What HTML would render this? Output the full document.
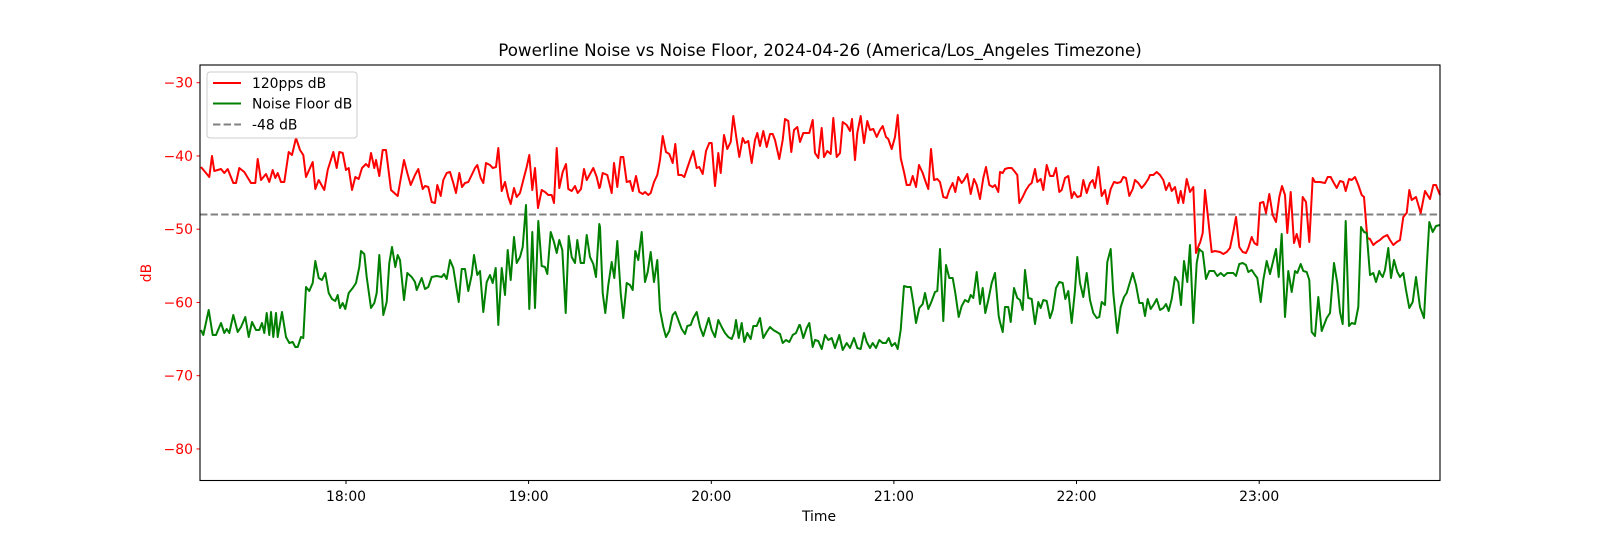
<!DOCTYPE html>
<html><head><meta charset="utf-8"><style>
body{margin:0;background:#fff}
text{font-family:"DejaVu Sans","Liberation Sans",sans-serif}
</style></head><body>
<svg id="s" width="1600" height="540" viewBox="0 0 1600 540" xmlns="http://www.w3.org/2000/svg">
<rect width="1600" height="540" fill="#fff"/>
<text x="820" y="56" font-size="16.7" text-anchor="middle" fill="#000">Powerline Noise vs Noise Floor, 2024-04-26 (America/Los_Angeles Timezone)</text>
<g id="ticks"></g>
<line x1="200" y1="214.5" x2="1440" y2="214.5" stroke="#808080" stroke-width="2" stroke-dasharray="7.4,3.2"/>
<polyline id="red" fill="none" stroke="#ff0000" stroke-width="2" stroke-linejoin="round"/>
<polyline id="green" fill="none" stroke="#008000" stroke-width="2" stroke-linejoin="round"/>
<rect x="200" y="65" width="1240" height="415.5" fill="none" stroke="#000" stroke-width="1.1"/>
<g>
<rect x="207" y="72" width="150" height="66" rx="3" fill="#fff" fill-opacity="0.8" stroke="#ccc"/>
<line x1="213" y1="83" x2="241" y2="83" stroke="#ff0000" stroke-width="2"/>
<text x="252" y="88" font-size="13.9">120pps dB</text>
<line x1="213" y1="103.5" x2="241" y2="103.5" stroke="#008000" stroke-width="2"/>
<text x="252" y="108.5" font-size="13.9">Noise Floor dB</text>
<line x1="213" y1="124.5" x2="241" y2="124.5" stroke="#808080" stroke-width="2" stroke-dasharray="7.4,3.2"/>
<text x="252" y="129.5" font-size="13.9">-48 dB</text>
</g>
<text x="151" y="273" font-size="13.9" fill="#ff0000" text-anchor="middle" transform="rotate(-90 151 273)">dB</text>
<text x="819" y="521" font-size="13.9" text-anchor="middle">Time</text>
</svg>
<script>
var ns="http://www.w3.org/2000/svg",g=document.getElementById("ticks");
function el(n,a,t){var e=document.createElementNS(ns,n);for(var k in a)e.setAttribute(k,a[k]);if(t)e.textContent=t;g.appendChild(e);}
for(var v=-30;v>=-80;v-=10){var y=82.7+(-30-v)*7.325;el("line",{x1:196.5,y1:y,x2:200,y2:y,stroke:"#ff0000"});el("text",{x:193,y:y+5,"font-size":13.9,fill:"#ff0000","text-anchor":"end"},"\u2212"+(-v));}
var xs=[346,528.6,711.3,893.9,1076.5,1259.2],lb=["18:00","19:00","20:00","21:00","22:00","23:00"];
for(var i=0;i<6;i++){el("line",{x1:xs[i],y1:480.5,x2:xs[i],y2:484,stroke:"#000"});el("text",{x:xs[i],y:501,"font-size":13.9,"text-anchor":"middle"},lb[i]);}
var R=[[196,[15,167,40,177,48,156,55,171,75,169,85,173,95,169,112,183,120,183,130,168,145,172,165,183,178,183,185,159,195,180,210,174,220,182,230,170,238,178,245,173,255,182,265,182,278,152,288,155,300,138,312,150,322,155,330,177,350,162,358,189,368,180,385,190,395,170,412,152,422,168,430,152,440,153,450,170,458,168,468,190,478,177,488,179,498,168,510,164,518,167,525,153,535,168,540,160,550,176,560,150,570,150,585,190,605,196,615,167]],
[400,[12,160,22,173,32,185,45,175,55,169,68,189,75,186,85,187,95,202,105,203,112,185,122,196,130,180,140,173,150,172,160,183,168,193,178,173,186,187,195,183,205,182,215,175,225,168,232,165,242,178,250,183,258,163,270,165,278,168,288,167,295,148,305,191,315,182,325,197,332,204,342,188,350,197,360,193,370,180,380,167,388,155,397,190,405,168,414,208,425,190,435,192,445,195,455,195,462,203,470,148,478,188,488,172,498,164,505,189,515,191,525,186,533,193,543,189,552,169,560,180,570,174,580,168,590,177,598,188]],
[600,[0,187,8,173,22,175,35,193,42,163,52,187,62,157,70,157,80,182,90,181,98,191,108,176,118,192,128,194,135,192,145,195,152,193,162,182,172,175,180,160,188,136,198,152,208,154,218,163,226,144,235,175,245,175,253,177,262,168,272,158,280,151,290,168,298,167,308,174,318,151,328,143,335,143,345,186,355,153,362,173,372,135,382,149,392,142,400,116,410,140,418,157,428,138,435,143,445,141,455,163,465,140,472,133,480,146,490,131,500,147,510,134,518,134,525,140,538,159,548,140,555,119,565,121,574,152,582,130,592,127,600,142,610,134]],
[800,[0,142,10,133,28,133,38,120,45,153,55,158,65,128,72,157,82,151,92,154,100,118,110,157,120,153,128,122,140,125,150,131,156,119,165,160,172,133,182,116,192,143,202,121,210,130,220,129,230,137,240,130,248,126,258,137,265,139,275,149,285,137,293,115,302,158,312,172,320,185,330,185,338,176,348,187,357,165,368,173,377,182,385,189,393,149,402,180,412,179,420,182,430,197,440,198,448,190,458,183,466,192,475,177,485,183,492,180,502,174,512,194,522,179,530,185,540,199,550,178,558,167,568,185,578,187,585,185,595,192,603,171,610,173,620,168]],
[1000,[0,172,8,173,15,169,25,168,35,168,45,172,52,175,58,203,68,197,78,190,88,185,95,183,105,169,112,182,122,179,130,190,140,165,150,176,160,176,168,168,178,192,185,190,195,178,205,176,215,198,222,192,232,197,242,196,250,180,260,193,270,183,278,180,285,188,295,167,305,196,315,190,322,204,332,189,342,182,352,183,362,182,370,177,378,178,388,196,398,189,405,180,415,183,425,188,435,184,445,179,450,175,460,175,470,172,480,175,490,180,498,190,508,183,515,191,525,187,535,203,542,191,550,203,560,179,570,192,580,187,588,253,598,244,608,233,616,191]],
[1200,[0,243,8,233,15,190,25,220,35,252,45,251,60,252,70,254,80,252,90,248,100,232,108,217,118,247,128,252,138,253,145,248,155,237,163,243,172,245,180,203,190,202,198,213,208,194,218,215,228,222,238,197,246,186,255,195,262,233,272,192,282,243,290,234,300,247,308,197,318,202,328,242,338,178,345,182,360,182,375,183,383,177,392,177,400,182,410,188,420,181,430,182,437,191,447,179,455,180,465,177,475,185,485,195,492,197,502,238,510,239,520,245,530,242]],
[1380,[0,240,10,237,22,235,30,240,40,245,50,242,60,240,70,217,80,213,88,190,95,200,108,197,122,213,135,191,150,199,160,185,168,185,180,195]]];
var G=[[196,[15,330,22,335,38,310,50,335,60,335,75,323,85,333,92,329,100,333,112,315,125,332,135,327,148,317,158,337,168,322,180,330,190,330,198,323,205,333,212,313,220,335,225,312,232,337,240,313,245,337,258,312,270,337,280,343,290,342,298,347,305,347,315,337,322,338,330,287,340,291,350,283,358,261,368,278,378,280,388,273,398,293,408,299,418,301,425,295,432,308,440,303,448,309,458,293,470,288,480,283,490,267,495,251,505,254,512,277,525,308,535,303,542,293,550,255,562,315,572,302,580,263,588,247,598,267,605,255,615,273]],
[400,[0,260,12,300,22,273,35,277,45,282,50,290,65,278,75,289,85,287,95,277,110,276,125,277,132,274,140,279,150,260,160,268,176,302,185,269,195,269,205,291,215,275,222,255,232,275,240,271,250,312,260,282,270,275,278,283,287,268,295,325,305,268,315,295,323,250,332,280,342,237,350,263,360,257,368,247,378,205,388,309,397,232,405,308,415,221,425,266,435,267,442,274,452,232,462,242,470,253,478,240,487,250,497,313,506,236,515,257,525,263,532,240,542,263,552,263,560,235,570,257,580,264,588,277,598,224]],
[600,[0,227,8,293,16,313,25,285,35,262,43,278,52,241,62,293,70,318,80,283,90,285,98,290,106,251,115,260,125,232,135,282,143,272,152,252,162,282,172,260,180,310,190,327,198,337,208,331,218,315,226,312,235,320,245,329,255,334,262,326,272,325,280,318,290,312,300,327,310,336,318,327,326,318,335,330,345,337,355,320,365,327,375,333,385,337,395,339,402,333,408,320,416,338,425,323,433,342,442,333,452,339,460,326,470,326,480,318,490,338,500,332,510,327,520,330,530,332,540,334,548,343,558,340,568,342,578,335,588,333,598,325,605,343,615,330]],
[800,[0,325,10,338,20,328,28,323,38,347,45,340,55,341,65,349,75,335,85,340,95,338,105,348,118,335,128,350,140,343,150,348,162,338,172,348,182,349,192,333,200,342,210,348,218,343,228,348,238,340,248,343,258,343,266,338,275,346,285,343,293,349,302,330,312,286,322,287,332,287,340,303,348,323,358,308,368,304,375,293,385,309,395,301,405,292,412,291,420,249,430,321,438,265,448,278,458,278,466,293,476,317,485,306,495,300,505,302,512,295,520,298,530,272,540,304,548,288,556,313,565,300,575,283,585,273,596,316,603,333,613,306,622,307]],
[1000,[0,322,8,332,15,307,25,307,32,322,42,288,52,298,60,300,68,310,75,270,85,298,95,299,105,324,115,302,122,308,130,300,140,301,150,318,158,310,168,288,178,282,188,283,196,299,205,291,215,323,225,290,232,257,240,283,250,297,260,273,270,300,280,313,290,318,298,317,305,302,315,305,322,262,332,249,340,293,352,333,362,307,372,297,380,293,390,282,398,273,408,285,418,303,428,303,435,316,443,299,452,309,462,304,470,299,480,310,490,308,498,304,506,311,515,299,525,277,535,282,543,305,552,261,562,282,570,245,580,323,590,263,598,249,608,252,616,279]],
[1200,[0,250,8,252,18,279,28,271,42,271,52,276,62,273,72,276,82,273,100,273,108,276,118,264,128,263,138,265,145,272,155,270,165,275,172,278,182,302,190,280,200,261,210,274,218,263,228,249,236,277,245,234,255,317,265,271,275,292,285,271,292,273,302,264,310,271,320,272,328,280,335,332,345,336,355,297,365,331,380,318,390,313,402,263,412,283,420,312,428,324,437,221,447,326,455,323,465,324,475,307,483,227,492,232,500,233,510,275,520,273,528,282,538,271]],
[1380,[0,273,8,277,15,270,25,248,33,278,42,260,52,272,60,277,70,273,78,290,88,308,98,302,108,277,120,307,132,318,140,267,148,222,158,232,168,226,180,225]]];
function build(S){var p=[];for(var i=0;i<S.length;i++){var o=S[i][0],a=S[i][1],lim=i+1<S.length?S[i+1][0]:9999;for(var j=0;j<a.length;j+=2){var x=o+a[j]/3;if(x<lim)p.push(x.toFixed(1)+","+a[j+1]);}}return p.join(" ");}
document.getElementById("red").setAttribute("points",build(R));
document.getElementById("green").setAttribute("points",build(G));
</script>
</body></html>
